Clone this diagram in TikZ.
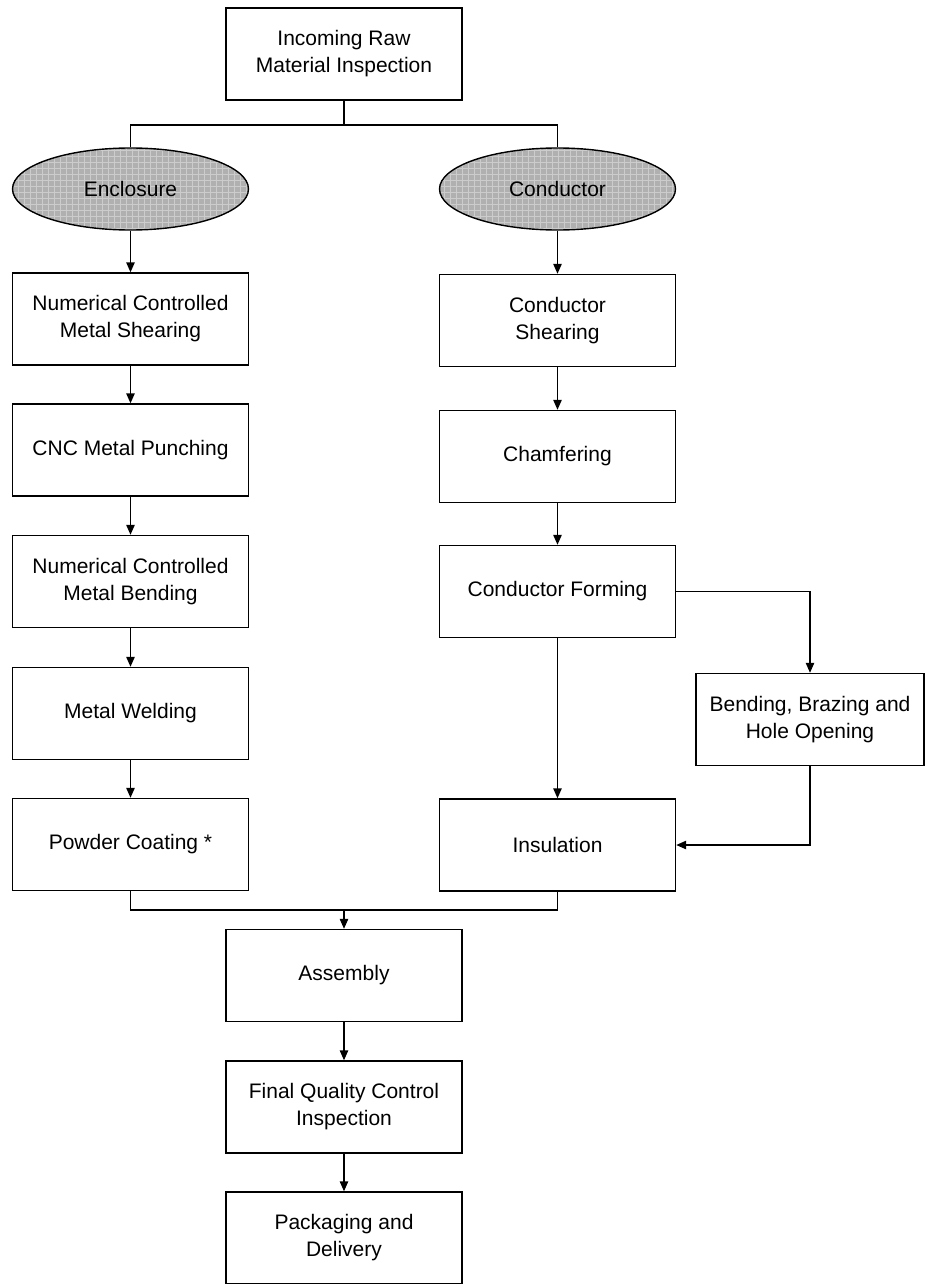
\documentclass[tikz,border=0pt]{standalone}
\usepackage{fontspec}
\setmainfont{Liberation Sans}
\usepackage{tikz}
\usetikzlibrary{shapes.geometric,arrows.meta,patterns}

\begin{document}
\begin{tikzpicture}[x=0.5pt,y=-0.5pt,
    line width=0.7pt,
    >={Triangle[length=5pt,width=4.2pt]},
    box/.style={draw,rectangle,minimum width=118pt,minimum height=46pt,
      inner sep=0pt,align=center,font=\fontsize{10.5}{13.5}\selectfont},
    oval/.style={draw,ellipse,minimum width=118pt,minimum height=41pt,
      preaction={fill=gray!62},pattern=grid,pattern color=gray!40,
      font=\fontsize{10.5}{13.5}\selectfont}]
          \useasboundingbox (0,0) rectangle (925,1284);

          \node[box] (inspect) at (344,54) {Incoming Raw\\Material Inspection};

          \node[oval] (enc) at (130.5,189) {Enclosure};
          \node[oval] (cond) at (557.5,189) {Conductor};

          % enclosure line
          \node[box] (mshear) at (130.5,319) {Numerical Controlled\\Metal Shearing};
          \node[box] (punch) at (130.5,450) {CNC Metal Punching};
          \node[box] (mbend) at (130.5,581.5) {Numerical Controlled\\Metal Bending};
          \node[box] (weld) at (130.5,713.5) {Metal Welding};
          \node[box] (coat) at (130.5,844.5) {Powder Coating *};

          % conductor line
          \node[box] (cshear) at (557.5,320.5) {Conductor\\Shearing};
          \node[box] (chamf) at (557.5,456.5) {Chamfering};
          \node[box] (form) at (557.5,591.5) {Conductor Forming};
          \node[box,minimum width=114pt] (braze) at (810,719.5) {Bending, Brazing and\\Hole Opening};
          \node[box] (insul) at (557.5,845) {Insulation};

          \node[box] (assy) at (344,975.5) {Assembly};
          \node[box] (qc) at (344,1107) {Final Quality Control\\Inspection};
          \node[box] (pack) at (344,1238) {Packaging and\\Delivery};

          \coordinate (split) at (344,125);
          \coordinate (merge) at (344,910);

          \draw (inspect.south) -- (split);
          \draw (enc.north) |- (split) -| (cond.north);

          \draw[->] (enc.south) -- (mshear.north);
          \draw[->] (mshear) -- (punch);
          \draw[->] (punch) -- (mbend);
          \draw[->] (mbend) -- (weld);
          \draw[->] (weld) -- (coat);

          \draw[->] (cond.south) -- (cshear.north);
          \draw[->] (cshear) -- (chamf);
          \draw[->] (chamf) -- (form);
          \draw[->] (form) -- (insul);
          \draw[->] (form.east) -| (braze.north);
          \draw[->] (braze.south) |- (insul.east);

          \draw (coat.south) |- (merge) -| (insul.south);
          \draw[->] (merge) -- (assy.north);
          \draw[->] (assy) -- (qc);
          \draw[->] (qc) -- (pack);
        \end{tikzpicture}
\end{document}
